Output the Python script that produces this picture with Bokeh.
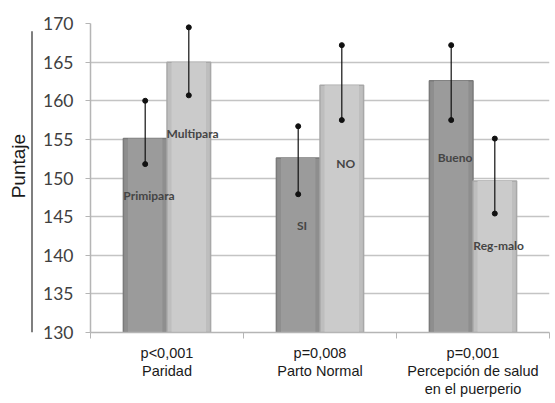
import numpy as np
from bokeh.plotting import figure
from bokeh.layouts import row
from bokeh.models import Range1d, FixedTicker, ColumnDataSource
from bokeh.core.properties import value
from bokeh.embed import file_html
from bokeh.resources import INLINE

# ---- data ----
group_labels = ["p<0,001\nParidad", "p=0,008\nParto Normal",
                "p=0,001\nPercepción de salud\nen el puerperio"]
bar_names = ["Primipara", "Multipara", "SI", "NO", "Bueno", "Reg-malo"]
bar_group = [0, 0, 1, 1, 2, 2]
bar_side = [0, 1, 0, 1, 0, 1]
means = [155.1, 165.0, 152.6, 162.0, 162.6, 149.6]
err_low = [151.8, 160.7, 147.9, 157.5, 157.5, 145.4]
err_high = [160.0, 169.5, 156.7, 167.2, 167.2, 155.1]
y_ticks = [130, 135, 140, 145, 150, 155, 160, 165, 170]
y_title = "Puntaje"

# ---- layout / style (not data) ----
label_y = [147.7, 155.8, 143.8, 151.9, 152.7, 141.2]
bar_w = 0.285
inset = 0.03
fill_cols = ["#8e8e8e", "#bebebe"]
inner_cols = ["#9b9b9b", "#cbcbcb"]
edge_cols = ["#7a7a7a", "#a8a8a8"]

centers = np.array(bar_group) + 1.0
lefts = np.where(np.array(bar_side) == 0, centers - bar_w, centers)
rights = lefts + bar_w
mids = (lefts + rights) / 2

src = ColumnDataSource(dict(
    left=lefts, right=rights, top=means, bottom=[y_ticks[0]] * len(means),
    ileft=lefts + inset, iright=rights - inset,
    fill=[fill_cols[s] for s in bar_side], inner=[inner_cols[s] for s in bar_side],
    edge=[edge_cols[s] for s in bar_side],
    mid=mids, low=err_low, high=err_high, name=bar_names,
    lx=mids + 0.025, ly=label_y,
))

# left strip with title and vertical rule
H = 403
lf = figure(width=33, height=H, x_range=Range1d(0, 33), y_range=Range1d(0, H),
            output_backend="svg", toolbar_location=None, min_border=0,
            x_axis_location=None, y_axis_location=None, outline_line_color=None)
lf.grid.visible = False
lf.segment(x0=[31.5], y0=[0], x1=[31.5], y1=[H - 10], line_color="#7f7f7f", line_width=2)
lf.text(x=[18], y=[H - 186], text=[y_title], angle=np.pi / 2, text_align="center",
        text_baseline="middle", text_font=value("Liberation Sans"),
        text_font_size="19px", text_color="#1a1a1a")

p = figure(width=522, height=H, x_range=Range1d(0.5, 3.5),
           y_range=Range1d(y_ticks[0], y_ticks[-1]),
           output_backend="svg", toolbar_location=None,
           min_border_left=57, min_border_right=6, min_border_top=23,
           min_border_bottom=71, outline_line_color=None)

p.quad(left="left", right="right", bottom="bottom", top="top", source=src,
       fill_color="fill", line_color="edge", line_width=1.5)
p.quad(left="ileft", right="iright", bottom="bottom", top="top", source=src,
       fill_color="inner", line_color=None)

p.segment(x0="mid", y0="low", x1="mid", y1="high", source=src,
          line_color="#111111", line_width=1.2)
p.scatter(x="mid", y="low", source=src, marker="circle", size=5, color="#111111")
p.scatter(x="mid", y="high", source=src, marker="circle", size=5, color="#111111")

p.text(x="lx", y="ly", text="name", source=src, text_align="center",
       text_baseline="middle", text_font=value("Lato"), text_font_style="bold",
       text_font_size="12px", text_color="#454545")

# y axis
p.yaxis.ticker = FixedTicker(ticks=y_ticks)
p.yaxis.major_tick_out = 5
p.yaxis.major_tick_in = 0
p.yaxis.minor_tick_out = 0
p.yaxis.minor_tick_in = 0
p.yaxis.axis_line_color = "#b5b5b5"
p.yaxis.axis_line_width = 1.5
p.yaxis.major_tick_line_color = "#b5b5b5"
p.yaxis.major_label_text_font = "Lato"
p.yaxis.major_label_text_font_size = "17.5px"
p.yaxis.major_label_text_color = "#404040"
p.yaxis.major_label_standoff = 12

# x axis
p.xaxis.ticker = FixedTicker(ticks=[1, 2, 3], minor_ticks=[0.5, 1.5, 2.5, 3.5])
p.xaxis.major_label_overrides = {i + 1: g for i, g in enumerate(group_labels)}
p.xaxis.major_tick_line_color = None
p.xaxis.major_tick_out = 0
p.xaxis.major_tick_in = 0
p.xaxis.minor_tick_out = 6
p.xaxis.minor_tick_in = 0
p.xaxis.minor_tick_line_color = "#b5b5b5"
p.xaxis.axis_line_color = "#b5b5b5"
p.xaxis.axis_line_width = 1.5
p.xaxis.major_label_text_font = "Liberation Sans"
p.xaxis.major_label_text_font_size = "14.5px"
p.xaxis.major_label_text_color = "#1a1a1a"
p.xaxis.major_label_text_line_height = 1.15
p.xaxis.major_label_standoff = 6

p.xgrid.visible = False
p.ygrid.ticker = FixedTicker(ticks=y_ticks)
p.ygrid.grid_line_color = "#c4c4c4"
p.ygrid.grid_line_width = 1.5

layout = row(lf, p)
open("out.html", "w").write(file_html(layout, INLINE))
